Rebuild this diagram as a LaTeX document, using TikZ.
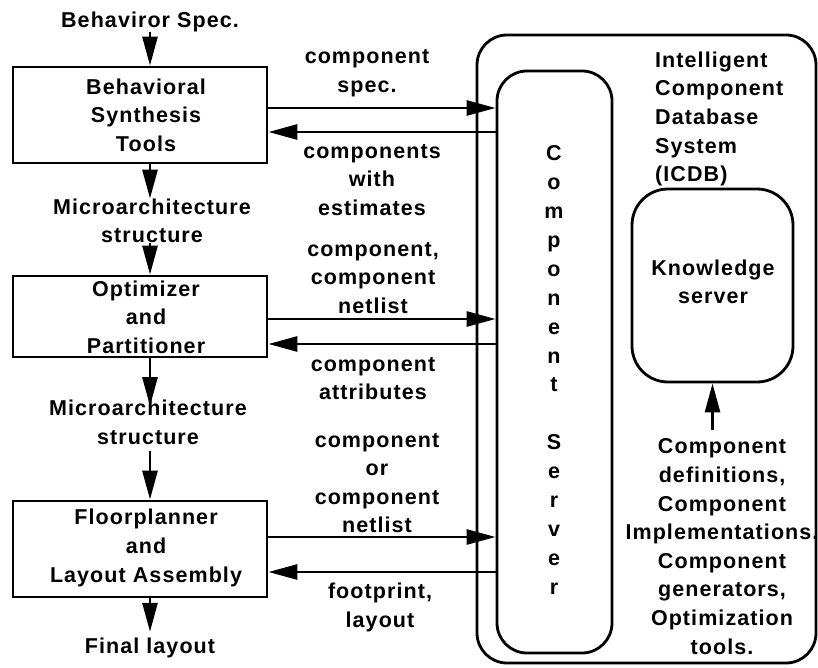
\documentclass[tikz,border=0pt]{standalone}
\usepackage{fontspec}
\setmainfont{Liberation Sans}[LetterSpace=5]
\usetikzlibrary{arrows.meta,calc}

\begin{document}
\begin{tikzpicture}[x=1pt,y=-1pt,
  lbl/.style={font=\fontsize{21.5}{28.6}\selectfont\bfseries, align=center, inner sep=0pt},
  toolbox/.style={draw, line width=2.8pt, minimum width=254pt, inner sep=0pt},
  rbox/.style={draw, line width=2.8pt, rounded corners=30pt, inner sep=0pt},
  flow/.style={line width=2.8pt, -{Triangle[length=29pt,width=15pt]}}]
\useasboundingbox (0,0) rectangle (818,668);

% database system and its servers
\node[rbox, minimum width=339pt, minimum height=628pt] (icdbbox) at (646.5,349) {};
\node[rbox, minimum width=115pt, minimum height=582pt] (cs) at (554.5,362) {};
\node[rbox, rounded corners=36pt, minimum width=161pt, minimum height=193pt] (kbox) at (712.5,285.5) {};

\node[lbl, align=left, anchor=west] (icdb) at (655,119) {Intelligent\\Component\\Database\\System\\(ICDB)};
\node[lbl] (ks) at (713,282) {Knowledge\\server};
\node[lbl, font=\fontsize{21.5}{28.9}\selectfont\bfseries] (csname) at (554,370)
  {C\\o\\m\\p\\o\\n\\e\\n\\t\\\mbox{}\\S\\e\\r\\v\\e\\r};
\node[lbl] (defs) at (722,546.5) {Component\\definitions,\\Component\\Implementations.\\Component\\generators,\\Optimization\\tools.};
\coordinate (kin) at (kbox.south |- 0,430);
\draw[flow] (kin) -- (kbox.south);

% design flow on the left
\node[lbl] (spec) at (150,22) {Behaviror Spec.};
\node[toolbox, minimum height=96pt] (b1) at (140,115) {};
\node[lbl] (t1) at (146,115) {Behavioral\\Synthesis\\Tools};
\node[lbl] (m1) at (152,221) {Microarchitecture\\structure};
\node[toolbox, minimum height=81pt] (b2) at (140,316.5) {};
\node[lbl] (t2) at (146,317) {Optimizer\\and\\Partitioner};
\node[lbl] (m2) at (148,422.5) {Microarchitecture\\structure};
\node[toolbox, minimum height=96pt] (b3) at (140,549) {};
\node[lbl] (t3) at (146,548) {Floorplanner\\and\\Layout Assembly};
\node[lbl] (fin) at (150,648) {Final layout};

\draw[flow] (spec) -- (spec |- b1.north);
\draw[flow] (b1.south -| spec) -- (m1.north -| spec);
\draw[flow] (m1.south -| spec) -- (b2.north -| spec);
\draw[flow, shorten >=-6pt] (b2.south -| spec) -- (m2.north -| spec);
\draw[flow, shorten <=6pt] (m2.south -| spec) -- (b3.north -| spec);
\draw[flow, shorten >=6pt] (b3.south -| spec) -- (fin);

% exchanges with the component server
\node[lbl] (l1) at (367,73) {component\\spec.};
\node[lbl] (l2) at (372,180) {components\\with\\estimates};
\node[lbl] (l3) at (373,278) {component,\\component\\netlist};
\node[lbl] (l4) at (373,378.5) {component\\attributes};
\node[lbl] (l5) at (377,483) {component\\or\\component\\netlist};
\node[lbl] (l6) at (380,607.5) {footprint,\\layout};

\coordinate (o1) at ($(b1.east)+(0,-7)$);
\coordinate (i1) at ($(b1.east)+(0,17)$);
\coordinate (o2) at ($(b2.east)+(0,2.5)$);
\coordinate (i2) at ($(b2.east)+(0,27.5)$);
\coordinate (o3) at ($(b3.east)+(0,-12)$);
\coordinate (i3) at ($(b3.east)+(0,23)$);
\draw[flow] (o1) -- (o1 -| cs.west);
\draw[flow] (i1 -| cs.west) -- (i1);
\draw[flow] (o2) -- (o2 -| cs.west);
\draw[flow] (i2 -| cs.west) -- (i2);
\draw[flow] (o3) -- (o3 -| cs.west);
\draw[flow] (i3 -| cs.west) -- (i3);
\end{tikzpicture}
\end{document}
